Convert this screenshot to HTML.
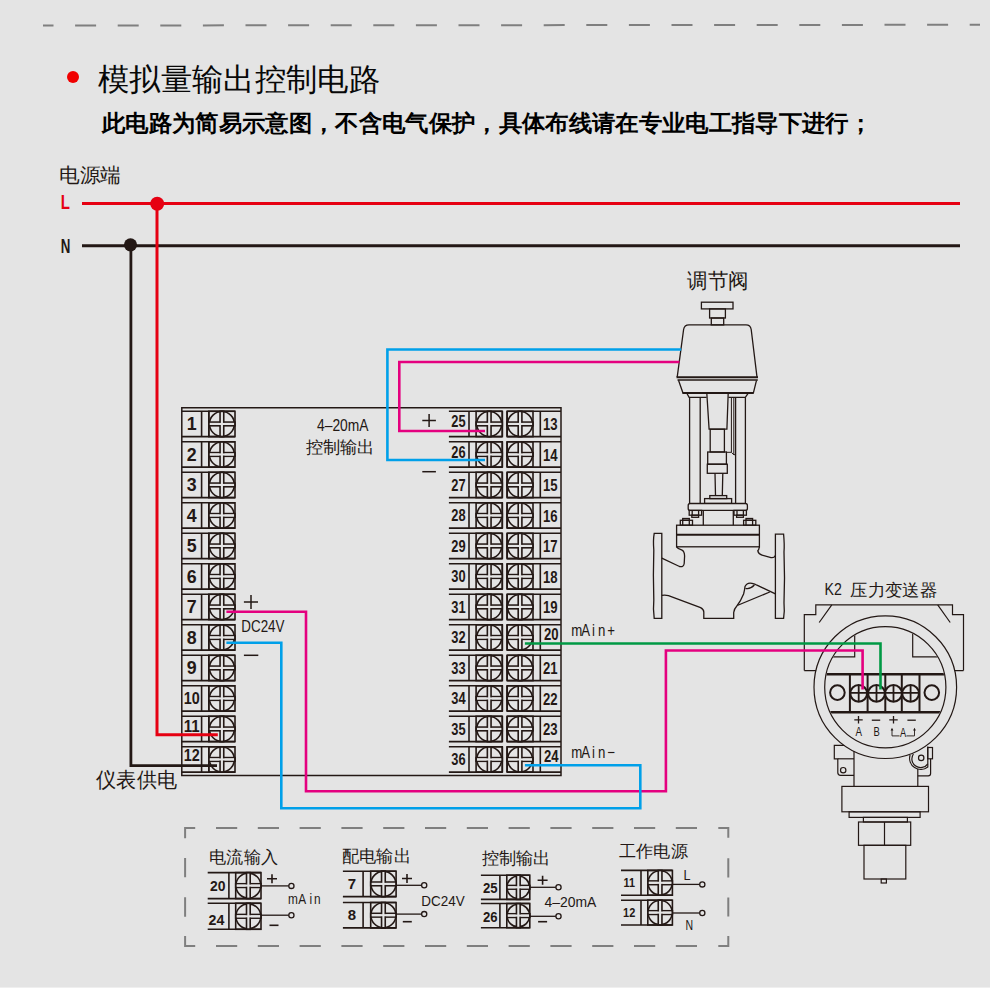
<!DOCTYPE html>
<html><head><meta charset="utf-8"><title>模拟量输出控制电路</title>
<style>
html,body{margin:0;padding:0;background:#e4e4e4;}
body{width:990px;height:988px;overflow:hidden;position:relative;font-family:'Liberation Sans', sans-serif;}
svg{position:absolute;left:0;top:0;}
text{font-family:'Liberation Sans', sans-serif;}
</style></head><body>
<svg width="990" height="988" viewBox="0 0 990 988">
<rect width="990" height="988" fill="#e4e4e4"/>

<line x1="43" y1="25.5" x2="980" y2="24.8" stroke="#7f7f7f" stroke-width="2" stroke-dasharray="21 21.6" stroke-dashoffset="10.5"/>
<circle cx="73" cy="77" r="6" fill="#f00000"/>
<text x="98.00" y="89.50" font-size="31" font-weight="normal" fill="#080808" text-anchor="start" textLength="282" lengthAdjust="spacingAndGlyphs">模拟量输出控制电路</text>
<text x="102.00" y="131.00" font-size="23.4" font-weight="bold" fill="#000000" text-anchor="start" textLength="770" lengthAdjust="spacingAndGlyphs">此电路为简易示意图，不含电气保护，具体布线请在专业电工指导下进行；</text>
<text x="59.00" y="181.50" font-size="20" font-weight="normal" fill="#231815" text-anchor="start" textLength="62" lengthAdjust="spacingAndGlyphs">电源端</text>
<text x="60.80" y="208.70" font-size="19.5" font-weight="bold" fill="#e60012" text-anchor="start" textLength="9.2" lengthAdjust="spacingAndGlyphs">L</text>
<text x="60.80" y="252.70" font-size="19.5" font-weight="bold" fill="#231815" text-anchor="start" textLength="9.6" lengthAdjust="spacingAndGlyphs">N</text>
<line x1="82.00" y1="203.50" x2="960.00" y2="203.50" stroke="#e60012" stroke-width="3"/>
<line x1="82.00" y1="245.80" x2="960.00" y2="245.80" stroke="#231815" stroke-width="3"/>
<path d="M181.8 407.8 H561 V775.4 H181.8 Z" fill="none" stroke="#231815" stroke-width="1.5"/>
<line x1="181.80" y1="411.30" x2="235.00" y2="411.30" stroke="#231815" stroke-width="1.6"/>
<line x1="181.80" y1="436.60" x2="235.00" y2="436.60" stroke="#231815" stroke-width="1.6"/>
<line x1="201.60" y1="411.30" x2="201.60" y2="436.60" stroke="#231815" stroke-width="1.6"/>
<line x1="208.80" y1="411.30" x2="208.80" y2="436.60" stroke="#231815" stroke-width="1.6"/>
<circle cx="221.90" cy="423.95" r="12.45" fill="none" stroke="#231815" stroke-width="1.6"/>
<rect x="208.80" y="422.10" width="26.20" height="3.70" fill="#e4e4e4" stroke="#231815" stroke-width="1.6"/>
<rect x="220.05" y="411.30" width="3.70" height="25.30" fill="#e4e4e4" stroke="#231815" stroke-width="1.6"/>
<rect x="209.60" y="422.90" width="24.60" height="2.10" fill="#e4e4e4"/>
<rect x="208.80" y="411.30" width="26.20" height="25.30" fill="none" stroke="#231815" stroke-width="1.6"/>
<text x="191.80" y="430.30" font-size="17.8" font-weight="bold" fill="#231815" text-anchor="middle">1</text>
<line x1="181.80" y1="441.80" x2="235.00" y2="441.80" stroke="#231815" stroke-width="1.6"/>
<line x1="181.80" y1="467.10" x2="235.00" y2="467.10" stroke="#231815" stroke-width="1.6"/>
<line x1="201.60" y1="441.80" x2="201.60" y2="467.10" stroke="#231815" stroke-width="1.6"/>
<line x1="208.80" y1="441.80" x2="208.80" y2="467.10" stroke="#231815" stroke-width="1.6"/>
<circle cx="221.90" cy="454.45" r="12.45" fill="none" stroke="#231815" stroke-width="1.6"/>
<rect x="208.80" y="452.60" width="26.20" height="3.70" fill="#e4e4e4" stroke="#231815" stroke-width="1.6"/>
<rect x="220.05" y="441.80" width="3.70" height="25.30" fill="#e4e4e4" stroke="#231815" stroke-width="1.6"/>
<rect x="209.60" y="453.40" width="24.60" height="2.10" fill="#e4e4e4"/>
<rect x="208.80" y="441.80" width="26.20" height="25.30" fill="none" stroke="#231815" stroke-width="1.6"/>
<text x="191.80" y="460.80" font-size="17.8" font-weight="bold" fill="#231815" text-anchor="middle">2</text>
<line x1="181.80" y1="472.30" x2="235.00" y2="472.30" stroke="#231815" stroke-width="1.6"/>
<line x1="181.80" y1="497.60" x2="235.00" y2="497.60" stroke="#231815" stroke-width="1.6"/>
<line x1="201.60" y1="472.30" x2="201.60" y2="497.60" stroke="#231815" stroke-width="1.6"/>
<line x1="208.80" y1="472.30" x2="208.80" y2="497.60" stroke="#231815" stroke-width="1.6"/>
<circle cx="221.90" cy="484.95" r="12.45" fill="none" stroke="#231815" stroke-width="1.6"/>
<rect x="208.80" y="483.10" width="26.20" height="3.70" fill="#e4e4e4" stroke="#231815" stroke-width="1.6"/>
<rect x="220.05" y="472.30" width="3.70" height="25.30" fill="#e4e4e4" stroke="#231815" stroke-width="1.6"/>
<rect x="209.60" y="483.90" width="24.60" height="2.10" fill="#e4e4e4"/>
<rect x="208.80" y="472.30" width="26.20" height="25.30" fill="none" stroke="#231815" stroke-width="1.6"/>
<text x="191.80" y="491.30" font-size="17.8" font-weight="bold" fill="#231815" text-anchor="middle">3</text>
<line x1="181.80" y1="502.80" x2="235.00" y2="502.80" stroke="#231815" stroke-width="1.6"/>
<line x1="181.80" y1="528.10" x2="235.00" y2="528.10" stroke="#231815" stroke-width="1.6"/>
<line x1="201.60" y1="502.80" x2="201.60" y2="528.10" stroke="#231815" stroke-width="1.6"/>
<line x1="208.80" y1="502.80" x2="208.80" y2="528.10" stroke="#231815" stroke-width="1.6"/>
<circle cx="221.90" cy="515.45" r="12.45" fill="none" stroke="#231815" stroke-width="1.6"/>
<rect x="208.80" y="513.60" width="26.20" height="3.70" fill="#e4e4e4" stroke="#231815" stroke-width="1.6"/>
<rect x="220.05" y="502.80" width="3.70" height="25.30" fill="#e4e4e4" stroke="#231815" stroke-width="1.6"/>
<rect x="209.60" y="514.40" width="24.60" height="2.10" fill="#e4e4e4"/>
<rect x="208.80" y="502.80" width="26.20" height="25.30" fill="none" stroke="#231815" stroke-width="1.6"/>
<text x="191.80" y="521.80" font-size="17.8" font-weight="bold" fill="#231815" text-anchor="middle">4</text>
<line x1="181.80" y1="533.30" x2="235.00" y2="533.30" stroke="#231815" stroke-width="1.6"/>
<line x1="181.80" y1="558.60" x2="235.00" y2="558.60" stroke="#231815" stroke-width="1.6"/>
<line x1="201.60" y1="533.30" x2="201.60" y2="558.60" stroke="#231815" stroke-width="1.6"/>
<line x1="208.80" y1="533.30" x2="208.80" y2="558.60" stroke="#231815" stroke-width="1.6"/>
<circle cx="221.90" cy="545.95" r="12.45" fill="none" stroke="#231815" stroke-width="1.6"/>
<rect x="208.80" y="544.10" width="26.20" height="3.70" fill="#e4e4e4" stroke="#231815" stroke-width="1.6"/>
<rect x="220.05" y="533.30" width="3.70" height="25.30" fill="#e4e4e4" stroke="#231815" stroke-width="1.6"/>
<rect x="209.60" y="544.90" width="24.60" height="2.10" fill="#e4e4e4"/>
<rect x="208.80" y="533.30" width="26.20" height="25.30" fill="none" stroke="#231815" stroke-width="1.6"/>
<text x="191.80" y="552.30" font-size="17.8" font-weight="bold" fill="#231815" text-anchor="middle">5</text>
<line x1="181.80" y1="563.80" x2="235.00" y2="563.80" stroke="#231815" stroke-width="1.6"/>
<line x1="181.80" y1="589.10" x2="235.00" y2="589.10" stroke="#231815" stroke-width="1.6"/>
<line x1="201.60" y1="563.80" x2="201.60" y2="589.10" stroke="#231815" stroke-width="1.6"/>
<line x1="208.80" y1="563.80" x2="208.80" y2="589.10" stroke="#231815" stroke-width="1.6"/>
<circle cx="221.90" cy="576.45" r="12.45" fill="none" stroke="#231815" stroke-width="1.6"/>
<rect x="208.80" y="574.60" width="26.20" height="3.70" fill="#e4e4e4" stroke="#231815" stroke-width="1.6"/>
<rect x="220.05" y="563.80" width="3.70" height="25.30" fill="#e4e4e4" stroke="#231815" stroke-width="1.6"/>
<rect x="209.60" y="575.40" width="24.60" height="2.10" fill="#e4e4e4"/>
<rect x="208.80" y="563.80" width="26.20" height="25.30" fill="none" stroke="#231815" stroke-width="1.6"/>
<text x="191.80" y="582.80" font-size="17.8" font-weight="bold" fill="#231815" text-anchor="middle">6</text>
<line x1="181.80" y1="594.30" x2="235.00" y2="594.30" stroke="#231815" stroke-width="1.6"/>
<line x1="181.80" y1="619.60" x2="235.00" y2="619.60" stroke="#231815" stroke-width="1.6"/>
<line x1="201.60" y1="594.30" x2="201.60" y2="619.60" stroke="#231815" stroke-width="1.6"/>
<line x1="208.80" y1="594.30" x2="208.80" y2="619.60" stroke="#231815" stroke-width="1.6"/>
<circle cx="221.90" cy="606.95" r="12.45" fill="none" stroke="#231815" stroke-width="1.6"/>
<rect x="208.80" y="605.10" width="26.20" height="3.70" fill="#e4e4e4" stroke="#231815" stroke-width="1.6"/>
<rect x="220.05" y="594.30" width="3.70" height="25.30" fill="#e4e4e4" stroke="#231815" stroke-width="1.6"/>
<rect x="209.60" y="605.90" width="24.60" height="2.10" fill="#e4e4e4"/>
<rect x="208.80" y="594.30" width="26.20" height="25.30" fill="none" stroke="#231815" stroke-width="1.6"/>
<text x="191.80" y="613.30" font-size="17.8" font-weight="bold" fill="#231815" text-anchor="middle">7</text>
<line x1="181.80" y1="624.80" x2="235.00" y2="624.80" stroke="#231815" stroke-width="1.6"/>
<line x1="181.80" y1="650.10" x2="235.00" y2="650.10" stroke="#231815" stroke-width="1.6"/>
<line x1="201.60" y1="624.80" x2="201.60" y2="650.10" stroke="#231815" stroke-width="1.6"/>
<line x1="208.80" y1="624.80" x2="208.80" y2="650.10" stroke="#231815" stroke-width="1.6"/>
<circle cx="221.90" cy="637.45" r="12.45" fill="none" stroke="#231815" stroke-width="1.6"/>
<rect x="208.80" y="635.60" width="26.20" height="3.70" fill="#e4e4e4" stroke="#231815" stroke-width="1.6"/>
<rect x="220.05" y="624.80" width="3.70" height="25.30" fill="#e4e4e4" stroke="#231815" stroke-width="1.6"/>
<rect x="209.60" y="636.40" width="24.60" height="2.10" fill="#e4e4e4"/>
<rect x="208.80" y="624.80" width="26.20" height="25.30" fill="none" stroke="#231815" stroke-width="1.6"/>
<text x="191.80" y="643.50" font-size="17.8" font-weight="bold" fill="#231815" text-anchor="middle">8</text>
<line x1="181.80" y1="655.30" x2="235.00" y2="655.30" stroke="#231815" stroke-width="1.6"/>
<line x1="181.80" y1="680.60" x2="235.00" y2="680.60" stroke="#231815" stroke-width="1.6"/>
<line x1="201.60" y1="655.30" x2="201.60" y2="680.60" stroke="#231815" stroke-width="1.6"/>
<line x1="208.80" y1="655.30" x2="208.80" y2="680.60" stroke="#231815" stroke-width="1.6"/>
<circle cx="221.90" cy="667.95" r="12.45" fill="none" stroke="#231815" stroke-width="1.6"/>
<rect x="208.80" y="666.10" width="26.20" height="3.70" fill="#e4e4e4" stroke="#231815" stroke-width="1.6"/>
<rect x="220.05" y="655.30" width="3.70" height="25.30" fill="#e4e4e4" stroke="#231815" stroke-width="1.6"/>
<rect x="209.60" y="666.90" width="24.60" height="2.10" fill="#e4e4e4"/>
<rect x="208.80" y="655.30" width="26.20" height="25.30" fill="none" stroke="#231815" stroke-width="1.6"/>
<text x="191.80" y="673.60" font-size="17.8" font-weight="bold" fill="#231815" text-anchor="middle">9</text>
<line x1="181.80" y1="685.80" x2="235.00" y2="685.80" stroke="#231815" stroke-width="1.6"/>
<line x1="181.80" y1="711.10" x2="235.00" y2="711.10" stroke="#231815" stroke-width="1.6"/>
<line x1="201.60" y1="685.80" x2="201.60" y2="711.10" stroke="#231815" stroke-width="1.6"/>
<line x1="208.80" y1="685.80" x2="208.80" y2="711.10" stroke="#231815" stroke-width="1.6"/>
<circle cx="221.90" cy="698.45" r="12.45" fill="none" stroke="#231815" stroke-width="1.6"/>
<rect x="208.80" y="696.60" width="26.20" height="3.70" fill="#e4e4e4" stroke="#231815" stroke-width="1.6"/>
<rect x="220.05" y="685.80" width="3.70" height="25.30" fill="#e4e4e4" stroke="#231815" stroke-width="1.6"/>
<rect x="209.60" y="697.40" width="24.60" height="2.10" fill="#e4e4e4"/>
<rect x="208.80" y="685.80" width="26.20" height="25.30" fill="none" stroke="#231815" stroke-width="1.6"/>
<text x="191.80" y="703.60" font-size="17.3" font-weight="bold" fill="#231815" text-anchor="middle" textLength="16" lengthAdjust="spacingAndGlyphs">10</text>
<line x1="181.80" y1="716.30" x2="235.00" y2="716.30" stroke="#231815" stroke-width="1.6"/>
<line x1="181.80" y1="741.60" x2="235.00" y2="741.60" stroke="#231815" stroke-width="1.6"/>
<line x1="201.60" y1="716.30" x2="201.60" y2="741.60" stroke="#231815" stroke-width="1.6"/>
<line x1="208.80" y1="716.30" x2="208.80" y2="741.60" stroke="#231815" stroke-width="1.6"/>
<circle cx="221.90" cy="728.95" r="12.45" fill="none" stroke="#231815" stroke-width="1.6"/>
<rect x="208.80" y="727.10" width="26.20" height="3.70" fill="#e4e4e4" stroke="#231815" stroke-width="1.6"/>
<rect x="220.05" y="716.30" width="3.70" height="25.30" fill="#e4e4e4" stroke="#231815" stroke-width="1.6"/>
<rect x="209.60" y="727.90" width="24.60" height="2.10" fill="#e4e4e4"/>
<rect x="208.80" y="716.30" width="26.20" height="25.30" fill="none" stroke="#231815" stroke-width="1.6"/>
<text x="191.80" y="731.80" font-size="17.3" font-weight="bold" fill="#231815" text-anchor="middle" textLength="16" lengthAdjust="spacingAndGlyphs">11</text>
<line x1="181.80" y1="746.80" x2="235.00" y2="746.80" stroke="#231815" stroke-width="1.6"/>
<line x1="181.80" y1="772.10" x2="235.00" y2="772.10" stroke="#231815" stroke-width="1.6"/>
<line x1="201.60" y1="746.80" x2="201.60" y2="772.10" stroke="#231815" stroke-width="1.6"/>
<line x1="208.80" y1="746.80" x2="208.80" y2="772.10" stroke="#231815" stroke-width="1.6"/>
<circle cx="221.90" cy="759.45" r="12.45" fill="none" stroke="#231815" stroke-width="1.6"/>
<rect x="208.80" y="757.60" width="26.20" height="3.70" fill="#e4e4e4" stroke="#231815" stroke-width="1.6"/>
<rect x="220.05" y="746.80" width="3.70" height="25.30" fill="#e4e4e4" stroke="#231815" stroke-width="1.6"/>
<rect x="209.60" y="758.40" width="24.60" height="2.10" fill="#e4e4e4"/>
<rect x="208.80" y="746.80" width="26.20" height="25.30" fill="none" stroke="#231815" stroke-width="1.6"/>
<text x="191.80" y="761.30" font-size="17.3" font-weight="bold" fill="#231815" text-anchor="middle" textLength="16" lengthAdjust="spacingAndGlyphs">12</text>
<line x1="448.90" y1="411.30" x2="502.30" y2="411.30" stroke="#231815" stroke-width="1.6"/>
<line x1="448.90" y1="436.60" x2="502.30" y2="436.60" stroke="#231815" stroke-width="1.6"/>
<line x1="507.10" y1="411.30" x2="561.00" y2="411.30" stroke="#231815" stroke-width="1.6"/>
<line x1="507.10" y1="436.60" x2="561.00" y2="436.60" stroke="#231815" stroke-width="1.6"/>
<line x1="469.00" y1="411.30" x2="469.00" y2="436.60" stroke="#231815" stroke-width="1.6"/>
<line x1="540.30" y1="411.30" x2="540.30" y2="436.60" stroke="#231815" stroke-width="1.6"/>
<line x1="502.30" y1="411.30" x2="502.30" y2="436.60" stroke="#231815" stroke-width="1.6"/>
<line x1="507.10" y1="411.30" x2="507.10" y2="436.60" stroke="#231815" stroke-width="1.6"/>
<circle cx="489.20" cy="423.95" r="12.45" fill="none" stroke="#231815" stroke-width="1.6"/>
<rect x="476.10" y="422.10" width="26.20" height="3.70" fill="#e4e4e4" stroke="#231815" stroke-width="1.6"/>
<rect x="487.35" y="411.30" width="3.70" height="25.30" fill="#e4e4e4" stroke="#231815" stroke-width="1.6"/>
<rect x="476.90" y="422.90" width="24.60" height="2.10" fill="#e4e4e4"/>
<rect x="476.10" y="411.30" width="26.20" height="25.30" fill="none" stroke="#231815" stroke-width="1.6"/>
<circle cx="520.05" cy="423.95" r="12.45" fill="none" stroke="#231815" stroke-width="1.6"/>
<rect x="507.10" y="422.10" width="25.90" height="3.70" fill="#e4e4e4" stroke="#231815" stroke-width="1.6"/>
<rect x="518.20" y="411.30" width="3.70" height="25.30" fill="#e4e4e4" stroke="#231815" stroke-width="1.6"/>
<rect x="507.90" y="422.90" width="24.30" height="2.10" fill="#e4e4e4"/>
<rect x="507.10" y="411.30" width="25.90" height="25.30" fill="none" stroke="#231815" stroke-width="1.6"/>
<text x="458.40" y="427.40" font-size="15.8" font-weight="bold" fill="#231815" text-anchor="middle" textLength="14.3" lengthAdjust="spacingAndGlyphs">25</text>
<text x="550.30" y="430.10" font-size="15.8" font-weight="bold" fill="#231815" text-anchor="middle" textLength="14.6" lengthAdjust="spacingAndGlyphs">13</text>
<line x1="448.90" y1="441.80" x2="502.30" y2="441.80" stroke="#231815" stroke-width="1.6"/>
<line x1="448.90" y1="467.10" x2="502.30" y2="467.10" stroke="#231815" stroke-width="1.6"/>
<line x1="507.10" y1="441.80" x2="561.00" y2="441.80" stroke="#231815" stroke-width="1.6"/>
<line x1="507.10" y1="467.10" x2="561.00" y2="467.10" stroke="#231815" stroke-width="1.6"/>
<line x1="469.00" y1="441.80" x2="469.00" y2="467.10" stroke="#231815" stroke-width="1.6"/>
<line x1="540.30" y1="441.80" x2="540.30" y2="467.10" stroke="#231815" stroke-width="1.6"/>
<line x1="502.30" y1="441.80" x2="502.30" y2="467.10" stroke="#231815" stroke-width="1.6"/>
<line x1="507.10" y1="441.80" x2="507.10" y2="467.10" stroke="#231815" stroke-width="1.6"/>
<circle cx="489.20" cy="454.45" r="12.45" fill="none" stroke="#231815" stroke-width="1.6"/>
<rect x="476.10" y="452.60" width="26.20" height="3.70" fill="#e4e4e4" stroke="#231815" stroke-width="1.6"/>
<rect x="487.35" y="441.80" width="3.70" height="25.30" fill="#e4e4e4" stroke="#231815" stroke-width="1.6"/>
<rect x="476.90" y="453.40" width="24.60" height="2.10" fill="#e4e4e4"/>
<rect x="476.10" y="441.80" width="26.20" height="25.30" fill="none" stroke="#231815" stroke-width="1.6"/>
<circle cx="520.05" cy="454.45" r="12.45" fill="none" stroke="#231815" stroke-width="1.6"/>
<rect x="507.10" y="452.60" width="25.90" height="3.70" fill="#e4e4e4" stroke="#231815" stroke-width="1.6"/>
<rect x="518.20" y="441.80" width="3.70" height="25.30" fill="#e4e4e4" stroke="#231815" stroke-width="1.6"/>
<rect x="507.90" y="453.40" width="24.30" height="2.10" fill="#e4e4e4"/>
<rect x="507.10" y="441.80" width="25.90" height="25.30" fill="none" stroke="#231815" stroke-width="1.6"/>
<text x="458.40" y="457.90" font-size="15.8" font-weight="bold" fill="#231815" text-anchor="middle" textLength="14.3" lengthAdjust="spacingAndGlyphs">26</text>
<text x="550.30" y="460.60" font-size="15.8" font-weight="bold" fill="#231815" text-anchor="middle" textLength="14.6" lengthAdjust="spacingAndGlyphs">14</text>
<line x1="448.90" y1="472.30" x2="502.30" y2="472.30" stroke="#231815" stroke-width="1.6"/>
<line x1="448.90" y1="497.60" x2="502.30" y2="497.60" stroke="#231815" stroke-width="1.6"/>
<line x1="507.10" y1="472.30" x2="561.00" y2="472.30" stroke="#231815" stroke-width="1.6"/>
<line x1="507.10" y1="497.60" x2="561.00" y2="497.60" stroke="#231815" stroke-width="1.6"/>
<line x1="469.00" y1="472.30" x2="469.00" y2="497.60" stroke="#231815" stroke-width="1.6"/>
<line x1="540.30" y1="472.30" x2="540.30" y2="497.60" stroke="#231815" stroke-width="1.6"/>
<line x1="502.30" y1="472.30" x2="502.30" y2="497.60" stroke="#231815" stroke-width="1.6"/>
<line x1="507.10" y1="472.30" x2="507.10" y2="497.60" stroke="#231815" stroke-width="1.6"/>
<circle cx="489.20" cy="484.95" r="12.45" fill="none" stroke="#231815" stroke-width="1.6"/>
<rect x="476.10" y="483.10" width="26.20" height="3.70" fill="#e4e4e4" stroke="#231815" stroke-width="1.6"/>
<rect x="487.35" y="472.30" width="3.70" height="25.30" fill="#e4e4e4" stroke="#231815" stroke-width="1.6"/>
<rect x="476.90" y="483.90" width="24.60" height="2.10" fill="#e4e4e4"/>
<rect x="476.10" y="472.30" width="26.20" height="25.30" fill="none" stroke="#231815" stroke-width="1.6"/>
<circle cx="520.05" cy="484.95" r="12.45" fill="none" stroke="#231815" stroke-width="1.6"/>
<rect x="507.10" y="483.10" width="25.90" height="3.70" fill="#e4e4e4" stroke="#231815" stroke-width="1.6"/>
<rect x="518.20" y="472.30" width="3.70" height="25.30" fill="#e4e4e4" stroke="#231815" stroke-width="1.6"/>
<rect x="507.90" y="483.90" width="24.30" height="2.10" fill="#e4e4e4"/>
<rect x="507.10" y="472.30" width="25.90" height="25.30" fill="none" stroke="#231815" stroke-width="1.6"/>
<text x="458.40" y="490.90" font-size="15.8" font-weight="bold" fill="#231815" text-anchor="middle" textLength="14.3" lengthAdjust="spacingAndGlyphs">27</text>
<text x="550.30" y="491.10" font-size="15.8" font-weight="bold" fill="#231815" text-anchor="middle" textLength="14.6" lengthAdjust="spacingAndGlyphs">15</text>
<line x1="448.90" y1="502.80" x2="502.30" y2="502.80" stroke="#231815" stroke-width="1.6"/>
<line x1="448.90" y1="528.10" x2="502.30" y2="528.10" stroke="#231815" stroke-width="1.6"/>
<line x1="507.10" y1="502.80" x2="561.00" y2="502.80" stroke="#231815" stroke-width="1.6"/>
<line x1="507.10" y1="528.10" x2="561.00" y2="528.10" stroke="#231815" stroke-width="1.6"/>
<line x1="469.00" y1="502.80" x2="469.00" y2="528.10" stroke="#231815" stroke-width="1.6"/>
<line x1="540.30" y1="502.80" x2="540.30" y2="528.10" stroke="#231815" stroke-width="1.6"/>
<line x1="502.30" y1="502.80" x2="502.30" y2="528.10" stroke="#231815" stroke-width="1.6"/>
<line x1="507.10" y1="502.80" x2="507.10" y2="528.10" stroke="#231815" stroke-width="1.6"/>
<circle cx="489.20" cy="515.45" r="12.45" fill="none" stroke="#231815" stroke-width="1.6"/>
<rect x="476.10" y="513.60" width="26.20" height="3.70" fill="#e4e4e4" stroke="#231815" stroke-width="1.6"/>
<rect x="487.35" y="502.80" width="3.70" height="25.30" fill="#e4e4e4" stroke="#231815" stroke-width="1.6"/>
<rect x="476.90" y="514.40" width="24.60" height="2.10" fill="#e4e4e4"/>
<rect x="476.10" y="502.80" width="26.20" height="25.30" fill="none" stroke="#231815" stroke-width="1.6"/>
<circle cx="520.05" cy="515.45" r="12.45" fill="none" stroke="#231815" stroke-width="1.6"/>
<rect x="507.10" y="513.60" width="25.90" height="3.70" fill="#e4e4e4" stroke="#231815" stroke-width="1.6"/>
<rect x="518.20" y="502.80" width="3.70" height="25.30" fill="#e4e4e4" stroke="#231815" stroke-width="1.6"/>
<rect x="507.90" y="514.40" width="24.30" height="2.10" fill="#e4e4e4"/>
<rect x="507.10" y="502.80" width="25.90" height="25.30" fill="none" stroke="#231815" stroke-width="1.6"/>
<text x="458.40" y="521.40" font-size="15.8" font-weight="bold" fill="#231815" text-anchor="middle" textLength="14.3" lengthAdjust="spacingAndGlyphs">28</text>
<text x="550.30" y="521.60" font-size="15.8" font-weight="bold" fill="#231815" text-anchor="middle" textLength="14.6" lengthAdjust="spacingAndGlyphs">16</text>
<line x1="448.90" y1="533.30" x2="502.30" y2="533.30" stroke="#231815" stroke-width="1.6"/>
<line x1="448.90" y1="558.60" x2="502.30" y2="558.60" stroke="#231815" stroke-width="1.6"/>
<line x1="507.10" y1="533.30" x2="561.00" y2="533.30" stroke="#231815" stroke-width="1.6"/>
<line x1="507.10" y1="558.60" x2="561.00" y2="558.60" stroke="#231815" stroke-width="1.6"/>
<line x1="469.00" y1="533.30" x2="469.00" y2="558.60" stroke="#231815" stroke-width="1.6"/>
<line x1="540.30" y1="533.30" x2="540.30" y2="558.60" stroke="#231815" stroke-width="1.6"/>
<line x1="502.30" y1="533.30" x2="502.30" y2="558.60" stroke="#231815" stroke-width="1.6"/>
<line x1="507.10" y1="533.30" x2="507.10" y2="558.60" stroke="#231815" stroke-width="1.6"/>
<circle cx="489.20" cy="545.95" r="12.45" fill="none" stroke="#231815" stroke-width="1.6"/>
<rect x="476.10" y="544.10" width="26.20" height="3.70" fill="#e4e4e4" stroke="#231815" stroke-width="1.6"/>
<rect x="487.35" y="533.30" width="3.70" height="25.30" fill="#e4e4e4" stroke="#231815" stroke-width="1.6"/>
<rect x="476.90" y="544.90" width="24.60" height="2.10" fill="#e4e4e4"/>
<rect x="476.10" y="533.30" width="26.20" height="25.30" fill="none" stroke="#231815" stroke-width="1.6"/>
<circle cx="520.05" cy="545.95" r="12.45" fill="none" stroke="#231815" stroke-width="1.6"/>
<rect x="507.10" y="544.10" width="25.90" height="3.70" fill="#e4e4e4" stroke="#231815" stroke-width="1.6"/>
<rect x="518.20" y="533.30" width="3.70" height="25.30" fill="#e4e4e4" stroke="#231815" stroke-width="1.6"/>
<rect x="507.90" y="544.90" width="24.30" height="2.10" fill="#e4e4e4"/>
<rect x="507.10" y="533.30" width="25.90" height="25.30" fill="none" stroke="#231815" stroke-width="1.6"/>
<text x="458.40" y="551.90" font-size="15.8" font-weight="bold" fill="#231815" text-anchor="middle" textLength="14.3" lengthAdjust="spacingAndGlyphs">29</text>
<text x="550.30" y="552.10" font-size="15.8" font-weight="bold" fill="#231815" text-anchor="middle" textLength="14.6" lengthAdjust="spacingAndGlyphs">17</text>
<line x1="448.90" y1="563.80" x2="502.30" y2="563.80" stroke="#231815" stroke-width="1.6"/>
<line x1="448.90" y1="589.10" x2="502.30" y2="589.10" stroke="#231815" stroke-width="1.6"/>
<line x1="507.10" y1="563.80" x2="561.00" y2="563.80" stroke="#231815" stroke-width="1.6"/>
<line x1="507.10" y1="589.10" x2="561.00" y2="589.10" stroke="#231815" stroke-width="1.6"/>
<line x1="469.00" y1="563.80" x2="469.00" y2="589.10" stroke="#231815" stroke-width="1.6"/>
<line x1="540.30" y1="563.80" x2="540.30" y2="589.10" stroke="#231815" stroke-width="1.6"/>
<line x1="502.30" y1="563.80" x2="502.30" y2="589.10" stroke="#231815" stroke-width="1.6"/>
<line x1="507.10" y1="563.80" x2="507.10" y2="589.10" stroke="#231815" stroke-width="1.6"/>
<circle cx="489.20" cy="576.45" r="12.45" fill="none" stroke="#231815" stroke-width="1.6"/>
<rect x="476.10" y="574.60" width="26.20" height="3.70" fill="#e4e4e4" stroke="#231815" stroke-width="1.6"/>
<rect x="487.35" y="563.80" width="3.70" height="25.30" fill="#e4e4e4" stroke="#231815" stroke-width="1.6"/>
<rect x="476.90" y="575.40" width="24.60" height="2.10" fill="#e4e4e4"/>
<rect x="476.10" y="563.80" width="26.20" height="25.30" fill="none" stroke="#231815" stroke-width="1.6"/>
<circle cx="520.05" cy="576.45" r="12.45" fill="none" stroke="#231815" stroke-width="1.6"/>
<rect x="507.10" y="574.60" width="25.90" height="3.70" fill="#e4e4e4" stroke="#231815" stroke-width="1.6"/>
<rect x="518.20" y="563.80" width="3.70" height="25.30" fill="#e4e4e4" stroke="#231815" stroke-width="1.6"/>
<rect x="507.90" y="575.40" width="24.30" height="2.10" fill="#e4e4e4"/>
<rect x="507.10" y="563.80" width="25.90" height="25.30" fill="none" stroke="#231815" stroke-width="1.6"/>
<text x="458.40" y="582.40" font-size="15.8" font-weight="bold" fill="#231815" text-anchor="middle" textLength="14.3" lengthAdjust="spacingAndGlyphs">30</text>
<text x="550.30" y="582.60" font-size="15.8" font-weight="bold" fill="#231815" text-anchor="middle" textLength="14.6" lengthAdjust="spacingAndGlyphs">18</text>
<line x1="448.90" y1="594.30" x2="502.30" y2="594.30" stroke="#231815" stroke-width="1.6"/>
<line x1="448.90" y1="619.60" x2="502.30" y2="619.60" stroke="#231815" stroke-width="1.6"/>
<line x1="507.10" y1="594.30" x2="561.00" y2="594.30" stroke="#231815" stroke-width="1.6"/>
<line x1="507.10" y1="619.60" x2="561.00" y2="619.60" stroke="#231815" stroke-width="1.6"/>
<line x1="469.00" y1="594.30" x2="469.00" y2="619.60" stroke="#231815" stroke-width="1.6"/>
<line x1="540.30" y1="594.30" x2="540.30" y2="619.60" stroke="#231815" stroke-width="1.6"/>
<line x1="502.30" y1="594.30" x2="502.30" y2="619.60" stroke="#231815" stroke-width="1.6"/>
<line x1="507.10" y1="594.30" x2="507.10" y2="619.60" stroke="#231815" stroke-width="1.6"/>
<circle cx="489.20" cy="606.95" r="12.45" fill="none" stroke="#231815" stroke-width="1.6"/>
<rect x="476.10" y="605.10" width="26.20" height="3.70" fill="#e4e4e4" stroke="#231815" stroke-width="1.6"/>
<rect x="487.35" y="594.30" width="3.70" height="25.30" fill="#e4e4e4" stroke="#231815" stroke-width="1.6"/>
<rect x="476.90" y="605.90" width="24.60" height="2.10" fill="#e4e4e4"/>
<rect x="476.10" y="594.30" width="26.20" height="25.30" fill="none" stroke="#231815" stroke-width="1.6"/>
<circle cx="520.05" cy="606.95" r="12.45" fill="none" stroke="#231815" stroke-width="1.6"/>
<rect x="507.10" y="605.10" width="25.90" height="3.70" fill="#e4e4e4" stroke="#231815" stroke-width="1.6"/>
<rect x="518.20" y="594.30" width="3.70" height="25.30" fill="#e4e4e4" stroke="#231815" stroke-width="1.6"/>
<rect x="507.90" y="605.90" width="24.30" height="2.10" fill="#e4e4e4"/>
<rect x="507.10" y="594.30" width="25.90" height="25.30" fill="none" stroke="#231815" stroke-width="1.6"/>
<text x="458.40" y="612.90" font-size="15.8" font-weight="bold" fill="#231815" text-anchor="middle" textLength="14.3" lengthAdjust="spacingAndGlyphs">31</text>
<text x="550.30" y="613.10" font-size="15.8" font-weight="bold" fill="#231815" text-anchor="middle" textLength="14.6" lengthAdjust="spacingAndGlyphs">19</text>
<line x1="448.90" y1="624.80" x2="502.30" y2="624.80" stroke="#231815" stroke-width="1.6"/>
<line x1="448.90" y1="650.10" x2="502.30" y2="650.10" stroke="#231815" stroke-width="1.6"/>
<line x1="507.10" y1="624.80" x2="561.00" y2="624.80" stroke="#231815" stroke-width="1.6"/>
<line x1="507.10" y1="650.10" x2="561.00" y2="650.10" stroke="#231815" stroke-width="1.6"/>
<line x1="469.00" y1="624.80" x2="469.00" y2="650.10" stroke="#231815" stroke-width="1.6"/>
<line x1="540.30" y1="624.80" x2="540.30" y2="650.10" stroke="#231815" stroke-width="1.6"/>
<line x1="502.30" y1="624.80" x2="502.30" y2="650.10" stroke="#231815" stroke-width="1.6"/>
<line x1="507.10" y1="624.80" x2="507.10" y2="650.10" stroke="#231815" stroke-width="1.6"/>
<circle cx="489.20" cy="637.45" r="12.45" fill="none" stroke="#231815" stroke-width="1.6"/>
<rect x="476.10" y="635.60" width="26.20" height="3.70" fill="#e4e4e4" stroke="#231815" stroke-width="1.6"/>
<rect x="487.35" y="624.80" width="3.70" height="25.30" fill="#e4e4e4" stroke="#231815" stroke-width="1.6"/>
<rect x="476.90" y="636.40" width="24.60" height="2.10" fill="#e4e4e4"/>
<rect x="476.10" y="624.80" width="26.20" height="25.30" fill="none" stroke="#231815" stroke-width="1.6"/>
<circle cx="520.05" cy="637.45" r="12.45" fill="none" stroke="#231815" stroke-width="1.6"/>
<rect x="507.10" y="635.60" width="25.90" height="3.70" fill="#e4e4e4" stroke="#231815" stroke-width="1.6"/>
<rect x="518.20" y="624.80" width="3.70" height="25.30" fill="#e4e4e4" stroke="#231815" stroke-width="1.6"/>
<rect x="507.90" y="636.40" width="24.30" height="2.10" fill="#e4e4e4"/>
<rect x="507.10" y="624.80" width="25.90" height="25.30" fill="none" stroke="#231815" stroke-width="1.6"/>
<text x="458.40" y="643.40" font-size="15.8" font-weight="bold" fill="#231815" text-anchor="middle" textLength="14.3" lengthAdjust="spacingAndGlyphs">32</text>
<text x="551.30" y="640.00" font-size="15.8" font-weight="bold" fill="#231815" text-anchor="middle" textLength="14.6" lengthAdjust="spacingAndGlyphs">20</text>
<line x1="448.90" y1="655.30" x2="502.30" y2="655.30" stroke="#231815" stroke-width="1.6"/>
<line x1="448.90" y1="680.60" x2="502.30" y2="680.60" stroke="#231815" stroke-width="1.6"/>
<line x1="507.10" y1="655.30" x2="561.00" y2="655.30" stroke="#231815" stroke-width="1.6"/>
<line x1="507.10" y1="680.60" x2="561.00" y2="680.60" stroke="#231815" stroke-width="1.6"/>
<line x1="469.00" y1="655.30" x2="469.00" y2="680.60" stroke="#231815" stroke-width="1.6"/>
<line x1="540.30" y1="655.30" x2="540.30" y2="680.60" stroke="#231815" stroke-width="1.6"/>
<line x1="502.30" y1="655.30" x2="502.30" y2="680.60" stroke="#231815" stroke-width="1.6"/>
<line x1="507.10" y1="655.30" x2="507.10" y2="680.60" stroke="#231815" stroke-width="1.6"/>
<circle cx="489.20" cy="667.95" r="12.45" fill="none" stroke="#231815" stroke-width="1.6"/>
<rect x="476.10" y="666.10" width="26.20" height="3.70" fill="#e4e4e4" stroke="#231815" stroke-width="1.6"/>
<rect x="487.35" y="655.30" width="3.70" height="25.30" fill="#e4e4e4" stroke="#231815" stroke-width="1.6"/>
<rect x="476.90" y="666.90" width="24.60" height="2.10" fill="#e4e4e4"/>
<rect x="476.10" y="655.30" width="26.20" height="25.30" fill="none" stroke="#231815" stroke-width="1.6"/>
<circle cx="520.05" cy="667.95" r="12.45" fill="none" stroke="#231815" stroke-width="1.6"/>
<rect x="507.10" y="666.10" width="25.90" height="3.70" fill="#e4e4e4" stroke="#231815" stroke-width="1.6"/>
<rect x="518.20" y="655.30" width="3.70" height="25.30" fill="#e4e4e4" stroke="#231815" stroke-width="1.6"/>
<rect x="507.90" y="666.90" width="24.30" height="2.10" fill="#e4e4e4"/>
<rect x="507.10" y="655.30" width="25.90" height="25.30" fill="none" stroke="#231815" stroke-width="1.6"/>
<text x="458.40" y="673.90" font-size="15.8" font-weight="bold" fill="#231815" text-anchor="middle" textLength="14.3" lengthAdjust="spacingAndGlyphs">33</text>
<text x="550.30" y="674.10" font-size="15.8" font-weight="bold" fill="#231815" text-anchor="middle" textLength="14.6" lengthAdjust="spacingAndGlyphs">21</text>
<line x1="448.90" y1="685.80" x2="502.30" y2="685.80" stroke="#231815" stroke-width="1.6"/>
<line x1="448.90" y1="711.10" x2="502.30" y2="711.10" stroke="#231815" stroke-width="1.6"/>
<line x1="507.10" y1="685.80" x2="561.00" y2="685.80" stroke="#231815" stroke-width="1.6"/>
<line x1="507.10" y1="711.10" x2="561.00" y2="711.10" stroke="#231815" stroke-width="1.6"/>
<line x1="469.00" y1="685.80" x2="469.00" y2="711.10" stroke="#231815" stroke-width="1.6"/>
<line x1="540.30" y1="685.80" x2="540.30" y2="711.10" stroke="#231815" stroke-width="1.6"/>
<line x1="502.30" y1="685.80" x2="502.30" y2="711.10" stroke="#231815" stroke-width="1.6"/>
<line x1="507.10" y1="685.80" x2="507.10" y2="711.10" stroke="#231815" stroke-width="1.6"/>
<circle cx="489.20" cy="698.45" r="12.45" fill="none" stroke="#231815" stroke-width="1.6"/>
<rect x="476.10" y="696.60" width="26.20" height="3.70" fill="#e4e4e4" stroke="#231815" stroke-width="1.6"/>
<rect x="487.35" y="685.80" width="3.70" height="25.30" fill="#e4e4e4" stroke="#231815" stroke-width="1.6"/>
<rect x="476.90" y="697.40" width="24.60" height="2.10" fill="#e4e4e4"/>
<rect x="476.10" y="685.80" width="26.20" height="25.30" fill="none" stroke="#231815" stroke-width="1.6"/>
<circle cx="520.05" cy="698.45" r="12.45" fill="none" stroke="#231815" stroke-width="1.6"/>
<rect x="507.10" y="696.60" width="25.90" height="3.70" fill="#e4e4e4" stroke="#231815" stroke-width="1.6"/>
<rect x="518.20" y="685.80" width="3.70" height="25.30" fill="#e4e4e4" stroke="#231815" stroke-width="1.6"/>
<rect x="507.90" y="697.40" width="24.30" height="2.10" fill="#e4e4e4"/>
<rect x="507.10" y="685.80" width="25.90" height="25.30" fill="none" stroke="#231815" stroke-width="1.6"/>
<text x="458.40" y="704.40" font-size="15.8" font-weight="bold" fill="#231815" text-anchor="middle" textLength="14.3" lengthAdjust="spacingAndGlyphs">34</text>
<text x="550.30" y="704.60" font-size="15.8" font-weight="bold" fill="#231815" text-anchor="middle" textLength="14.6" lengthAdjust="spacingAndGlyphs">22</text>
<line x1="448.90" y1="716.30" x2="502.30" y2="716.30" stroke="#231815" stroke-width="1.6"/>
<line x1="448.90" y1="741.60" x2="502.30" y2="741.60" stroke="#231815" stroke-width="1.6"/>
<line x1="507.10" y1="716.30" x2="561.00" y2="716.30" stroke="#231815" stroke-width="1.6"/>
<line x1="507.10" y1="741.60" x2="561.00" y2="741.60" stroke="#231815" stroke-width="1.6"/>
<line x1="469.00" y1="716.30" x2="469.00" y2="741.60" stroke="#231815" stroke-width="1.6"/>
<line x1="540.30" y1="716.30" x2="540.30" y2="741.60" stroke="#231815" stroke-width="1.6"/>
<line x1="502.30" y1="716.30" x2="502.30" y2="741.60" stroke="#231815" stroke-width="1.6"/>
<line x1="507.10" y1="716.30" x2="507.10" y2="741.60" stroke="#231815" stroke-width="1.6"/>
<circle cx="489.20" cy="728.95" r="12.45" fill="none" stroke="#231815" stroke-width="1.6"/>
<rect x="476.10" y="727.10" width="26.20" height="3.70" fill="#e4e4e4" stroke="#231815" stroke-width="1.6"/>
<rect x="487.35" y="716.30" width="3.70" height="25.30" fill="#e4e4e4" stroke="#231815" stroke-width="1.6"/>
<rect x="476.90" y="727.90" width="24.60" height="2.10" fill="#e4e4e4"/>
<rect x="476.10" y="716.30" width="26.20" height="25.30" fill="none" stroke="#231815" stroke-width="1.6"/>
<circle cx="520.05" cy="728.95" r="12.45" fill="none" stroke="#231815" stroke-width="1.6"/>
<rect x="507.10" y="727.10" width="25.90" height="3.70" fill="#e4e4e4" stroke="#231815" stroke-width="1.6"/>
<rect x="518.20" y="716.30" width="3.70" height="25.30" fill="#e4e4e4" stroke="#231815" stroke-width="1.6"/>
<rect x="507.90" y="727.90" width="24.30" height="2.10" fill="#e4e4e4"/>
<rect x="507.10" y="716.30" width="25.90" height="25.30" fill="none" stroke="#231815" stroke-width="1.6"/>
<text x="458.40" y="734.90" font-size="15.8" font-weight="bold" fill="#231815" text-anchor="middle" textLength="14.3" lengthAdjust="spacingAndGlyphs">35</text>
<text x="550.30" y="735.10" font-size="15.8" font-weight="bold" fill="#231815" text-anchor="middle" textLength="14.6" lengthAdjust="spacingAndGlyphs">23</text>
<line x1="448.90" y1="746.80" x2="502.30" y2="746.80" stroke="#231815" stroke-width="1.6"/>
<line x1="448.90" y1="772.10" x2="502.30" y2="772.10" stroke="#231815" stroke-width="1.6"/>
<line x1="507.10" y1="746.80" x2="561.00" y2="746.80" stroke="#231815" stroke-width="1.6"/>
<line x1="507.10" y1="772.10" x2="561.00" y2="772.10" stroke="#231815" stroke-width="1.6"/>
<line x1="469.00" y1="746.80" x2="469.00" y2="772.10" stroke="#231815" stroke-width="1.6"/>
<line x1="540.30" y1="746.80" x2="540.30" y2="772.10" stroke="#231815" stroke-width="1.6"/>
<line x1="502.30" y1="746.80" x2="502.30" y2="772.10" stroke="#231815" stroke-width="1.6"/>
<line x1="507.10" y1="746.80" x2="507.10" y2="772.10" stroke="#231815" stroke-width="1.6"/>
<circle cx="489.20" cy="759.45" r="12.45" fill="none" stroke="#231815" stroke-width="1.6"/>
<rect x="476.10" y="757.60" width="26.20" height="3.70" fill="#e4e4e4" stroke="#231815" stroke-width="1.6"/>
<rect x="487.35" y="746.80" width="3.70" height="25.30" fill="#e4e4e4" stroke="#231815" stroke-width="1.6"/>
<rect x="476.90" y="758.40" width="24.60" height="2.10" fill="#e4e4e4"/>
<rect x="476.10" y="746.80" width="26.20" height="25.30" fill="none" stroke="#231815" stroke-width="1.6"/>
<circle cx="520.05" cy="759.45" r="12.45" fill="none" stroke="#231815" stroke-width="1.6"/>
<rect x="507.10" y="757.60" width="25.90" height="3.70" fill="#e4e4e4" stroke="#231815" stroke-width="1.6"/>
<rect x="518.20" y="746.80" width="3.70" height="25.30" fill="#e4e4e4" stroke="#231815" stroke-width="1.6"/>
<rect x="507.90" y="758.40" width="24.30" height="2.10" fill="#e4e4e4"/>
<rect x="507.10" y="746.80" width="25.90" height="25.30" fill="none" stroke="#231815" stroke-width="1.6"/>
<text x="458.40" y="765.40" font-size="15.8" font-weight="bold" fill="#231815" text-anchor="middle" textLength="14.3" lengthAdjust="spacingAndGlyphs">36</text>
<text x="551.30" y="762.00" font-size="15.8" font-weight="bold" fill="#231815" text-anchor="middle" textLength="14.6" lengthAdjust="spacingAndGlyphs">24</text>
<text x="317.00" y="430.80" font-size="16.5" font-weight="normal" fill="#231815" text-anchor="start" textLength="51.5" lengthAdjust="spacingAndGlyphs">4–20mA</text>
<text x="305.50" y="453.30" font-size="17.3" font-weight="normal" fill="#231815" text-anchor="start" textLength="69" lengthAdjust="spacingAndGlyphs">控制输出</text>
<path d="M422.3 420.5 H435.9 M429.1 414 V427" stroke="#231815" stroke-width="1.5"/>
<line x1="422.30" y1="471.70" x2="435.90" y2="471.70" stroke="#231815" stroke-width="1.5"/>
<path d="M243.9 602 H258 M251 595 V609" stroke="#231815" stroke-width="1.5"/>
<line x1="243.90" y1="655.30" x2="258.30" y2="655.30" stroke="#231815" stroke-width="1.5"/>
<text x="241.30" y="632.20" font-size="17.2" font-weight="normal" fill="#231815" text-anchor="start" textLength="43.2" lengthAdjust="spacingAndGlyphs">DC24V</text>
<text x="714.00 726.50 739.87 747.50 759.12" y="636.00" font-size="16.5" fill="#231815" transform="scale(0.8,1)">mAin+</text>
<text x="714.00 726.50 739.87 747.50 759.12" y="757.80" font-size="16.5" fill="#231815" transform="scale(0.8,1)">mAin−</text>
<text x="96.40" y="787.00" font-size="20.5" font-weight="normal" fill="#231815" text-anchor="start" textLength="80.4" lengthAdjust="spacingAndGlyphs">仪表供电</text>
<rect x="701.4" y="302.2" width="31.6" height="6.7" fill="none" stroke="#231815" stroke-width="1.3"/>
<rect x="709.6" y="308.9" width="15.8" height="9.1" fill="none" stroke="#231815" stroke-width="1.3"/>
<rect x="711.3" y="318" width="12.4" height="6.9" fill="none" stroke="#231815" stroke-width="1.3"/>
<path d="M677.2 377.2 L683.6 329.5 Q684.3 324.9 689 324.9 L746 324.9 Q750.5 324.9 751.2 329.5 L757 377.2" fill="none" stroke="#231815" stroke-width="1.3" stroke-linejoin="round"/>
<line x1="676.5" y1="377.3" x2="758" y2="377.3" stroke="#231815" stroke-width="1.9"/>
<line x1="677.5" y1="379.9" x2="757.8" y2="379.9" stroke="#231815" stroke-width="1.5"/>
<path d="M678.5 380.3 L682.9 392.8 L753.4 392.8 L756.5 380.3" fill="none" stroke="#231815" stroke-width="1.3"/>
<line x1="682.5" y1="393" x2="753.6" y2="393" stroke="#231815" stroke-width="1.8"/>
<path d="M686.8 393.2 L689.1 397.3 L706.6 397.3" fill="none" stroke="#231815" stroke-width="1.3"/>
<path d="M728.4 397.3 L745.3 397.3 L748.3 393.2" fill="none" stroke="#231815" stroke-width="1.3"/>
<path d="M706.8 393 L709.1 429.2 L726.9 429.2 L728.2 393" fill="none" stroke="#231815" stroke-width="1.3"/>
<rect x="710.2" y="429.2" width="14.2" height="22.8" fill="none" stroke="#231815" stroke-width="1.3"/>
<rect x="707.7" y="452" width="18.7" height="12.2" fill="none" stroke="#231815" stroke-width="1.3"/>
<rect x="707.3" y="464.2" width="20" height="9.1" fill="none" stroke="#231815" stroke-width="1.3"/>
<path d="M715 473.3 L715.5 495.6 M722.8 473.3 L722.3 495.6" fill="none" stroke="#231815" stroke-width="1.3"/>
<rect x="709.8" y="495.6" width="16.9" height="3" fill="none" stroke="#231815" stroke-width="1.3"/>
<rect x="704.6" y="498.6" width="27" height="4.9" fill="none" stroke="#231815" stroke-width="1.3"/>
<path d="M689.6 397.3 V503.5 M700.2 397.3 V503.5 M735.6 397.3 V503.5 M745.4 397.3 V503.5" fill="none" stroke="#231815" stroke-width="1.3"/>
<path d="M731.4 397.3 V452 M733.8 397.3 V455" fill="none" stroke="#231815" stroke-width="1.0"/>
<path d="M726.4 452.3 H731.4 Q733 455 735.5 455" fill="none" stroke="#231815" stroke-width="1.0"/>
<rect x="688.2" y="503.5" width="59.2" height="6.9" rx="2" fill="#e4e4e4" stroke="#231815" stroke-width="1.3"/>
<rect x="689.2" y="510.4" width="12.4" height="4.8" fill="none" stroke="#231815" stroke-width="1.3"/>
<rect x="691.8000000000001" y="515.2" width="6.8" height="2.1" fill="none" stroke="#231815" stroke-width="1.3"/>
<path d="M692.2 510.4 V515.2 M698.6 510.4 V515.2" fill="none" stroke="#231815" stroke-width="1.3"/>
<rect x="734.0" y="510.4" width="12.4" height="4.8" fill="none" stroke="#231815" stroke-width="1.3"/>
<rect x="736.6" y="515.2" width="6.8" height="2.1" fill="none" stroke="#231815" stroke-width="1.3"/>
<path d="M737.0 510.4 V515.2 M743.4 510.4 V515.2" fill="none" stroke="#231815" stroke-width="1.3"/>
<path d="M703.3 510.4 V525.2 M733.3 510.4 V525.2" fill="none" stroke="#231815" stroke-width="1.3"/>
<rect x="682.6999999999999" y="518.5" width="6.6" height="1.8" fill="none" stroke="#231815" stroke-width="1.3"/>
<rect x="680.3" y="520.3" width="12.2" height="4.9" fill="none" stroke="#231815" stroke-width="1.3"/>
<path d="M682.6999999999999 520.3 V525.2 M689.3 520.3 V525.2" fill="none" stroke="#231815" stroke-width="1.3"/>
<rect x="746.0" y="518.5" width="6.6" height="1.8" fill="none" stroke="#231815" stroke-width="1.3"/>
<rect x="743.6" y="520.3" width="12.2" height="4.9" fill="none" stroke="#231815" stroke-width="1.3"/>
<path d="M746.0 520.3 V525.2 M752.6 520.3 V525.2" fill="none" stroke="#231815" stroke-width="1.3"/>
<rect x="676.6" y="525.2" width="82.8" height="21.6" fill="none" stroke="#231815" stroke-width="1.3"/>
<line x1="676.6" y1="534.7" x2="759.4" y2="534.7" stroke="#231815" stroke-width="2"/>
<path d="M654.2 533.4 H661.8 V618.3 H654.2 Q653 608 653.8 600 Q653 575 653.8 550 Q653 540 654.2 533.4 Z" fill="none" stroke="#231815" stroke-width="1.3"/>
<path d="M775.4 534.2 H783.6 Q784.6 545 784 552 Q785 578 784 603 Q784.8 612 783.6 618.3 H775.4 Z" fill="none" stroke="#231815" stroke-width="1.3"/>
<path d="M661.8 558.2 L679.5 566.5 Q683.6 567.5 684.2 563.5 L684.6 556 Q684.4 551.2 682 550.2 Q677.5 548.6 676.6 546.8" fill="none" stroke="#231815" stroke-width="1.3"/>
<path d="M759.4 546.8 Q758.8 550 757.8 550.8 Q758.5 554 762 555 L771 557.6 Q774 558.2 775.4 555.5" fill="none" stroke="#231815" stroke-width="1.3"/>
<path d="M661.8 595.4 Q665 594.8 668.5 595.6 L700.6 607.6 Q703.8 609.5 703.8 612 V618.3 H733.7 V612.5 Q734 609 737.2 605.5" fill="none" stroke="#231815" stroke-width="1.3"/>
<path d="M737.2 605.5 Q740.5 601.5 743.6 594 Q744.8 589 745 586.5 Q747 582.2 752 583.3 Q755 584 757 585.2 L775.4 593.8" fill="none" stroke="#231815" stroke-width="1.3"/>
<path d="M737.2 605.5 L769.8 592" fill="none" stroke="#231815" stroke-width="1.3"/>
<path d="M745.5 588.3 Q750 589.5 754.4 585" fill="none" stroke="#231815" stroke-width="1.3"/>
<text x="687.00" y="287.80" font-size="20.5" font-weight="normal" fill="#231815" text-anchor="start" textLength="61.5" lengthAdjust="spacingAndGlyphs">调节阀</text>
<defs><clipPath id="inner"><circle cx="885.3" cy="687.2" r="60.0"/></clipPath></defs>
<path d="M804.3 670.6 V614.6 H815.8 V604.8 H952.5 V614.6 H963.5 V670.6" fill="none" stroke="#231815" stroke-width="1.2"/>
<path d="M804.3 670.6 H820 M963.5 670.6 H950" fill="none" stroke="#231815" stroke-width="1.2"/>
<path d="M831.8 604.8 L819.2 622.5 M937.7 604.8 L950.2 622.5" fill="none" stroke="#231815" stroke-width="1.2"/>
<path d="M854 745.4 H834.3 V758.8 H837.8 V772.5 Q837.8 775.3 840.6 775.3 H854" fill="none" stroke="#231815" stroke-width="1.2"/>
<circle cx="843.2" cy="770.2" r="2.7" fill="none" stroke="#231815" stroke-width="1.2"/>
<path d="M854 751 V786.4 M917.8 768.5 V786.4" fill="none" stroke="#231815" stroke-width="1.2"/>
<path d="M854 758.8 H837.8" fill="none" stroke="#231815" stroke-width="1.2"/>
<path d="M917.8 775.9 H928.2 Q930.6 775.9 930.6 773.5 V758.8" fill="none" stroke="#231815" stroke-width="1.2"/>
<path d="M927.8 746.5 V767 A11.2 11.2 0 0 1 910.1 755" fill="#e4e4e4" stroke="#231815" stroke-width="1.2"/>
<path d="M913.4 754 A8.7 8.7 0 0 0 927.8 763.8" fill="none" stroke="#231815" stroke-width="1.2"/>
<rect x="927.7" y="747.5" width="4.8" height="11.3" fill="none" stroke="#231815" stroke-width="1.2"/>
<circle cx="885.3" cy="687.2" r="71.3" fill="#e4e4e4" stroke="#231815" stroke-width="1.2"/>
<circle cx="885.3" cy="687.2" r="60.6" fill="none" stroke="#231815" stroke-width="1.2"/>
<circle cx="921.2" cy="757.9" r="2.7" fill="none" stroke="#231815" stroke-width="1.2"/>
<g clip-path="url(#inner)">
<path d="M854.7 620 V656.8 H820 M912.7 620 V656.8 H950" fill="none" stroke="#231815" stroke-width="1.2"/>
<line x1="820" y1="674.3" x2="950" y2="674.3" stroke="#231815" stroke-width="2.4"/>
<line x1="820" y1="712.3" x2="950" y2="712.3" stroke="#231815" stroke-width="2.4"/>
</g>
<line x1="849.9" y1="674.3" x2="849.9" y2="712.3" stroke="#231815" stroke-width="2"/>
<line x1="867.6" y1="674.3" x2="867.6" y2="712.3" stroke="#231815" stroke-width="2"/>
<line x1="885.3" y1="674.3" x2="885.3" y2="712.3" stroke="#231815" stroke-width="2"/>
<line x1="901.8" y1="674.3" x2="901.8" y2="712.3" stroke="#231815" stroke-width="2"/>
<line x1="919.5" y1="674.3" x2="919.5" y2="712.3" stroke="#231815" stroke-width="2"/>
<circle cx="837.4" cy="692.6" r="7.3" fill="none" stroke="#231815" stroke-width="2"/>
<circle cx="931.8" cy="692.6" r="7.3" fill="none" stroke="#231815" stroke-width="2"/>
<circle cx="858.7" cy="693.4" r="8.4" fill="#e4e4e4" stroke="#231815" stroke-width="2.1"/>
<path d="M850.3000000000001 692.9 H867.1 M858.7 685 V701.8" stroke="#231815" stroke-width="1.8"/>
<circle cx="876.5" cy="693.4" r="8.4" fill="#e4e4e4" stroke="#231815" stroke-width="2.1"/>
<path d="M868.1 692.9 H884.9 M876.5 685 V701.8" stroke="#231815" stroke-width="1.8"/>
<circle cx="893.5" cy="693.4" r="8.4" fill="#e4e4e4" stroke="#231815" stroke-width="2.1"/>
<path d="M885.1 692.9 H901.9 M893.5 685 V701.8" stroke="#231815" stroke-width="1.8"/>
<circle cx="910.6" cy="693.4" r="8.4" fill="#e4e4e4" stroke="#231815" stroke-width="2.1"/>
<path d="M902.2 692.9 H919.0 M910.6 685 V701.8" stroke="#231815" stroke-width="1.8"/>
<path d="M854.3 719.8 H862.7 M858.5 716 V723.6" stroke="#231815" stroke-width="1.3"/>
<path d="M889.3 719.8 H897.7 M893.5 716 V723.6" stroke="#231815" stroke-width="1.3"/>
<path d="M871.8 720.2 H880.2" stroke="#231815" stroke-width="1.3"/>
<path d="M907.4 720.2 H915.8000000000001" stroke="#231815" stroke-width="1.3"/>
<text x="858.80" y="736.00" font-size="12" font-weight="normal" fill="#231815" text-anchor="middle" textLength="6.5" lengthAdjust="spacingAndGlyphs">A</text>
<text x="876.70" y="736.00" font-size="12" font-weight="normal" fill="#231815" text-anchor="middle" textLength="6.3" lengthAdjust="spacingAndGlyphs">B</text>
<text x="903.00" y="736.60" font-size="12" font-weight="normal" fill="#231815" text-anchor="middle" textLength="6.2" lengthAdjust="spacingAndGlyphs">A</text>
<path d="M892 729.5 V735.9 H899.5 M906.5 735.9 H914.5 V729.5" fill="none" stroke="#231815" stroke-width="0.9"/>
<path d="M890.6 730.5 L892 727.8 L893.4 730.5 Z M913.1 730.5 L914.5 727.8 L915.9 730.5 Z" fill="#231815"/>
<rect x="841.9" y="786.4" width="86.6" height="25.4" fill="none" stroke="#231815" stroke-width="1.2"/>
<rect x="849.1" y="811.8" width="71" height="5.6" fill="none" stroke="#231815" stroke-width="1.2"/>
<rect x="863.4" y="817.4" width="44" height="4.6" fill="none" stroke="#231815" stroke-width="1.2"/>
<rect x="858.5" y="822" width="52.2" height="23.3" fill="none" stroke="#231815" stroke-width="1.2"/>
<line x1="884.5" y1="822" x2="884.5" y2="845.3" stroke="#231815" stroke-width="1.2"/>
<rect x="864" y="845.3" width="41.8" height="33.7" fill="none" stroke="#231815" stroke-width="1.2"/>
<rect x="881.2" y="879" width="5.2" height="4" fill="none" stroke="#231815" stroke-width="1.2"/>
<text x="824.50" y="595.20" font-size="16.5" font-weight="normal" fill="#231815" text-anchor="start" textLength="17.3" lengthAdjust="spacingAndGlyphs">K2</text>
<text x="850.30" y="595.80" font-size="17.4" font-weight="normal" fill="#231815" text-anchor="start" textLength="87" lengthAdjust="spacingAndGlyphs">压力变送器</text>
<path d="M157 203.5 V734.8 H217.8" fill="none" stroke="#e60012" stroke-width="3"/>
<path d="M130.9 245.8 V765.6 H217" fill="none" stroke="#231815" stroke-width="2.8"/>
<circle cx="157.2" cy="203.7" r="7" fill="#e60012"/>
<circle cx="130.5" cy="244.8" r="6.6" fill="#231815"/>
<path d="M226.4 611.7 H306 V791.2 H665.9 V650.5 H862.6 V689.5" fill="none" stroke="#e4007f" stroke-width="2.6"/>
<path d="M226.4 642.8 H281.3 V808.3 H640.3 V765.3 H524.9" fill="none" stroke="#00a0e9" stroke-width="2.6"/>
<path d="M524.9 643.5 H880.5 V689.5" fill="none" stroke="#009944" stroke-width="2.6"/>
<path d="M485 431 H399.3 V362 H679.5" fill="none" stroke="#e4007f" stroke-width="2.6"/>
<path d="M485 460 H387.4 V349.5 H681.2" fill="none" stroke="#00a0e9" stroke-width="2.6"/>
<line x1="216" y1="828" x2="697.5" y2="828" stroke="#7f7f7f" stroke-width="2" stroke-dasharray="21.2 20.6"/>
<line x1="216" y1="946" x2="697.5" y2="946" stroke="#7f7f7f" stroke-width="2" stroke-dasharray="21.2 20.6"/>
<line x1="185.1" y1="857.9" x2="185.1" y2="917" stroke="#7f7f7f" stroke-width="2" stroke-dasharray="19.4 20"/>
<line x1="728.3" y1="858.2" x2="728.3" y2="917" stroke="#7f7f7f" stroke-width="2" stroke-dasharray="19.2 20"/>
<path d="M195.2 828 H185.1 V838.2 M185.1 936 V946 H195.2 M718.3 828 H728.3 V837.7 M728.3 936 V946 H718.3" fill="none" stroke="#7f7f7f" stroke-width="2"/>
<text x="209.30" y="862.50" font-size="17.2" font-weight="normal" fill="#231815" text-anchor="start" textLength="68.5" lengthAdjust="spacingAndGlyphs">电流输入</text>
<line x1="207.70" y1="872.60" x2="261.00" y2="872.60" stroke="#231815" stroke-width="1.6"/>
<line x1="207.70" y1="898.60" x2="261.00" y2="898.60" stroke="#231815" stroke-width="1.6"/>
<line x1="228.90" y1="872.60" x2="228.90" y2="898.60" stroke="#231815" stroke-width="1.6"/>
<circle cx="248.35" cy="885.60" r="12.45" fill="none" stroke="#231815" stroke-width="1.6"/>
<rect x="235.70" y="883.75" width="25.30" height="3.70" fill="#e4e4e4" stroke="#231815" stroke-width="1.6"/>
<rect x="246.50" y="872.60" width="3.70" height="26.00" fill="#e4e4e4" stroke="#231815" stroke-width="1.6"/>
<rect x="236.50" y="884.55" width="23.70" height="2.10" fill="#e4e4e4"/>
<rect x="235.70" y="872.60" width="25.30" height="26.00" fill="none" stroke="#231815" stroke-width="1.6"/>
<line x1="207.70" y1="903.30" x2="261.00" y2="903.30" stroke="#231815" stroke-width="1.6"/>
<line x1="207.70" y1="929.30" x2="261.00" y2="929.30" stroke="#231815" stroke-width="1.6"/>
<line x1="228.90" y1="903.30" x2="228.90" y2="929.30" stroke="#231815" stroke-width="1.6"/>
<circle cx="248.35" cy="916.30" r="12.45" fill="none" stroke="#231815" stroke-width="1.6"/>
<rect x="235.70" y="914.45" width="25.30" height="3.70" fill="#e4e4e4" stroke="#231815" stroke-width="1.6"/>
<rect x="246.50" y="903.30" width="3.70" height="26.00" fill="#e4e4e4" stroke="#231815" stroke-width="1.6"/>
<rect x="236.50" y="915.25" width="23.70" height="2.10" fill="#e4e4e4"/>
<rect x="235.70" y="903.30" width="25.30" height="26.00" fill="none" stroke="#231815" stroke-width="1.6"/>
<text x="217.80" y="891.10" font-size="15" font-weight="bold" fill="#231815" text-anchor="middle" textLength="15.5" lengthAdjust="spacingAndGlyphs">20</text>
<text x="216.40" y="924.70" font-size="15" font-weight="bold" fill="#231815" text-anchor="middle" textLength="15.8" lengthAdjust="spacingAndGlyphs">24</text>
<line x1="261.00" y1="885.90" x2="288.90" y2="885.90" stroke="#231815" stroke-width="1.3"/>
<circle cx="291.4" cy="885.9" r="2.6" fill="#e4e4e4" stroke="#231815" stroke-width="1.3"/>
<line x1="261.00" y1="915.20" x2="288.90" y2="915.20" stroke="#231815" stroke-width="1.3"/>
<circle cx="291.4" cy="915.2" r="2.6" fill="#e4e4e4" stroke="#231815" stroke-width="1.3"/>
<path d="M267 878.7 H277 M272 874.2 V883.2" stroke="#231815" stroke-width="1.6"/>
<line x1="269.50" y1="925.30" x2="278.50" y2="925.30" stroke="#231815" stroke-width="1.6"/>
<text x="360.00 372.75 386.88 392.50" y="904.20" font-size="14.8" fill="#231815" transform="scale(0.8,1)">mAin</text>
<text x="342.00" y="862.00" font-size="17.2" font-weight="normal" fill="#231815" text-anchor="start" textLength="68.8" lengthAdjust="spacingAndGlyphs">配电输出</text>
<line x1="342.90" y1="871.20" x2="396.10" y2="871.20" stroke="#231815" stroke-width="1.6"/>
<line x1="342.90" y1="896.60" x2="396.10" y2="896.60" stroke="#231815" stroke-width="1.6"/>
<line x1="363.10" y1="871.20" x2="363.10" y2="896.60" stroke="#231815" stroke-width="1.6"/>
<circle cx="383.40" cy="883.90" r="12.50" fill="none" stroke="#231815" stroke-width="1.6"/>
<rect x="370.70" y="882.05" width="25.40" height="3.70" fill="#e4e4e4" stroke="#231815" stroke-width="1.6"/>
<rect x="381.55" y="871.20" width="3.70" height="25.40" fill="#e4e4e4" stroke="#231815" stroke-width="1.6"/>
<rect x="371.50" y="882.85" width="23.80" height="2.10" fill="#e4e4e4"/>
<rect x="370.70" y="871.20" width="25.40" height="25.40" fill="none" stroke="#231815" stroke-width="1.6"/>
<line x1="342.90" y1="902.50" x2="396.10" y2="902.50" stroke="#231815" stroke-width="1.6"/>
<line x1="342.90" y1="927.90" x2="396.10" y2="927.90" stroke="#231815" stroke-width="1.6"/>
<line x1="363.10" y1="902.50" x2="363.10" y2="927.90" stroke="#231815" stroke-width="1.6"/>
<circle cx="383.40" cy="915.20" r="12.50" fill="none" stroke="#231815" stroke-width="1.6"/>
<rect x="370.70" y="913.35" width="25.40" height="3.70" fill="#e4e4e4" stroke="#231815" stroke-width="1.6"/>
<rect x="381.55" y="902.50" width="3.70" height="25.40" fill="#e4e4e4" stroke="#231815" stroke-width="1.6"/>
<rect x="371.50" y="914.15" width="23.80" height="2.10" fill="#e4e4e4"/>
<rect x="370.70" y="902.50" width="25.40" height="25.40" fill="none" stroke="#231815" stroke-width="1.6"/>
<text x="351.80" y="889.20" font-size="15" font-weight="bold" fill="#231815" text-anchor="middle">7</text>
<text x="351.80" y="920.40" font-size="15" font-weight="bold" fill="#231815" text-anchor="middle">8</text>
<line x1="396.10" y1="885.30" x2="421.70" y2="885.30" stroke="#231815" stroke-width="1.3"/>
<circle cx="424.2" cy="885.3" r="2.6" fill="#e4e4e4" stroke="#231815" stroke-width="1.3"/>
<line x1="396.10" y1="914.10" x2="421.70" y2="914.10" stroke="#231815" stroke-width="1.3"/>
<circle cx="424.2" cy="914.1" r="2.6" fill="#e4e4e4" stroke="#231815" stroke-width="1.3"/>
<path d="M402 878.5 H412 M407 874.0 V883.0" stroke="#231815" stroke-width="1.6"/>
<line x1="402.80" y1="921.70" x2="411.80" y2="921.70" stroke="#231815" stroke-width="1.6"/>
<text x="421.30" y="905.90" font-size="14.8" font-weight="normal" fill="#231815" text-anchor="start" textLength="43.4" lengthAdjust="spacingAndGlyphs">DC24V</text>
<text x="481.80" y="864.00" font-size="17.2" font-weight="normal" fill="#231815" text-anchor="start" textLength="68.8" lengthAdjust="spacingAndGlyphs">控制输出</text>
<line x1="480.90" y1="875.20" x2="529.80" y2="875.20" stroke="#231815" stroke-width="1.6"/>
<line x1="480.90" y1="899.40" x2="529.80" y2="899.40" stroke="#231815" stroke-width="1.6"/>
<line x1="499.90" y1="875.20" x2="499.90" y2="899.40" stroke="#231815" stroke-width="1.6"/>
<circle cx="518.30" cy="887.30" r="11.30" fill="none" stroke="#231815" stroke-width="1.6"/>
<rect x="506.80" y="885.45" width="23.00" height="3.70" fill="#e4e4e4" stroke="#231815" stroke-width="1.6"/>
<rect x="516.45" y="875.20" width="3.70" height="24.20" fill="#e4e4e4" stroke="#231815" stroke-width="1.6"/>
<rect x="507.60" y="886.25" width="21.40" height="2.10" fill="#e4e4e4"/>
<rect x="506.80" y="875.20" width="23.00" height="24.20" fill="none" stroke="#231815" stroke-width="1.6"/>
<line x1="480.90" y1="903.50" x2="529.80" y2="903.50" stroke="#231815" stroke-width="1.6"/>
<line x1="480.90" y1="927.70" x2="529.80" y2="927.70" stroke="#231815" stroke-width="1.6"/>
<line x1="499.90" y1="903.50" x2="499.90" y2="927.70" stroke="#231815" stroke-width="1.6"/>
<circle cx="518.30" cy="915.60" r="11.30" fill="none" stroke="#231815" stroke-width="1.6"/>
<rect x="506.80" y="913.75" width="23.00" height="3.70" fill="#e4e4e4" stroke="#231815" stroke-width="1.6"/>
<rect x="516.45" y="903.50" width="3.70" height="24.20" fill="#e4e4e4" stroke="#231815" stroke-width="1.6"/>
<rect x="507.60" y="914.55" width="21.40" height="2.10" fill="#e4e4e4"/>
<rect x="506.80" y="903.50" width="23.00" height="24.20" fill="none" stroke="#231815" stroke-width="1.6"/>
<text x="490.20" y="893.30" font-size="15" font-weight="bold" fill="#231815" text-anchor="middle" textLength="14.6" lengthAdjust="spacingAndGlyphs">25</text>
<text x="490.20" y="921.50" font-size="15" font-weight="bold" fill="#231815" text-anchor="middle" textLength="14.6" lengthAdjust="spacingAndGlyphs">26</text>
<line x1="529.80" y1="887.30" x2="556.00" y2="887.30" stroke="#231815" stroke-width="1.3"/>
<circle cx="558.5" cy="887.3" r="2.6" fill="#e4e4e4" stroke="#231815" stroke-width="1.3"/>
<line x1="529.80" y1="916.30" x2="556.00" y2="916.30" stroke="#231815" stroke-width="1.3"/>
<circle cx="558.5" cy="916.3" r="2.6" fill="#e4e4e4" stroke="#231815" stroke-width="1.3"/>
<path d="M537.6 880.2 H547.6 M542.6 875.7 V884.7" stroke="#231815" stroke-width="1.6"/>
<line x1="538.10" y1="921.70" x2="547.10" y2="921.70" stroke="#231815" stroke-width="1.6"/>
<text x="544.60" y="906.50" font-size="14.8" font-weight="normal" fill="#231815" text-anchor="start" textLength="51.8" lengthAdjust="spacingAndGlyphs">4–20mA</text>
<text x="619.20" y="857.40" font-size="17.2" font-weight="normal" fill="#231815" text-anchor="start" textLength="68.5" lengthAdjust="spacingAndGlyphs">工作电源</text>
<line x1="621.00" y1="870.40" x2="672.40" y2="870.40" stroke="#231815" stroke-width="1.6"/>
<line x1="621.00" y1="895.20" x2="672.40" y2="895.20" stroke="#231815" stroke-width="1.6"/>
<line x1="641.00" y1="870.40" x2="641.00" y2="895.20" stroke="#231815" stroke-width="1.6"/>
<circle cx="660.10" cy="882.80" r="12.10" fill="none" stroke="#231815" stroke-width="1.6"/>
<rect x="647.80" y="880.95" width="24.60" height="3.70" fill="#e4e4e4" stroke="#231815" stroke-width="1.6"/>
<rect x="658.25" y="870.40" width="3.70" height="24.80" fill="#e4e4e4" stroke="#231815" stroke-width="1.6"/>
<rect x="648.60" y="881.75" width="23.00" height="2.10" fill="#e4e4e4"/>
<rect x="647.80" y="870.40" width="24.60" height="24.80" fill="none" stroke="#231815" stroke-width="1.6"/>
<line x1="621.00" y1="900.20" x2="672.40" y2="900.20" stroke="#231815" stroke-width="1.6"/>
<line x1="621.00" y1="925.00" x2="672.40" y2="925.00" stroke="#231815" stroke-width="1.6"/>
<line x1="641.00" y1="900.20" x2="641.00" y2="925.00" stroke="#231815" stroke-width="1.6"/>
<circle cx="660.10" cy="912.60" r="12.10" fill="none" stroke="#231815" stroke-width="1.6"/>
<rect x="647.80" y="910.75" width="24.60" height="3.70" fill="#e4e4e4" stroke="#231815" stroke-width="1.6"/>
<rect x="658.25" y="900.20" width="3.70" height="24.80" fill="#e4e4e4" stroke="#231815" stroke-width="1.6"/>
<rect x="648.60" y="911.55" width="23.00" height="2.10" fill="#e4e4e4"/>
<rect x="647.80" y="900.20" width="24.60" height="24.80" fill="none" stroke="#231815" stroke-width="1.6"/>
<text x="629.20" y="886.60" font-size="13.2" font-weight="bold" fill="#231815" text-anchor="middle" textLength="11.4" lengthAdjust="spacingAndGlyphs">11</text>
<text x="629.20" y="917.30" font-size="13.2" font-weight="bold" fill="#231815" text-anchor="middle" textLength="12.2" lengthAdjust="spacingAndGlyphs">12</text>
<line x1="672.40" y1="884.40" x2="699.80" y2="884.40" stroke="#231815" stroke-width="1.3"/>
<circle cx="702.3" cy="884.4" r="2.6" fill="#e4e4e4" stroke="#231815" stroke-width="1.3"/>
<line x1="672.40" y1="913.00" x2="699.80" y2="913.00" stroke="#231815" stroke-width="1.3"/>
<circle cx="702.3" cy="913" r="2.6" fill="#e4e4e4" stroke="#231815" stroke-width="1.3"/>
<text x="683.40" y="879.50" font-size="15" font-weight="normal" fill="#231815" text-anchor="start" textLength="7" lengthAdjust="spacingAndGlyphs">L</text>
<text x="685.50" y="929.80" font-size="15" font-weight="normal" fill="#231815" text-anchor="start" textLength="7.6" lengthAdjust="spacingAndGlyphs">N</text>
<rect x="0" y="987" width="990" height="1" fill="#efefef"/>
</svg></body></html>
